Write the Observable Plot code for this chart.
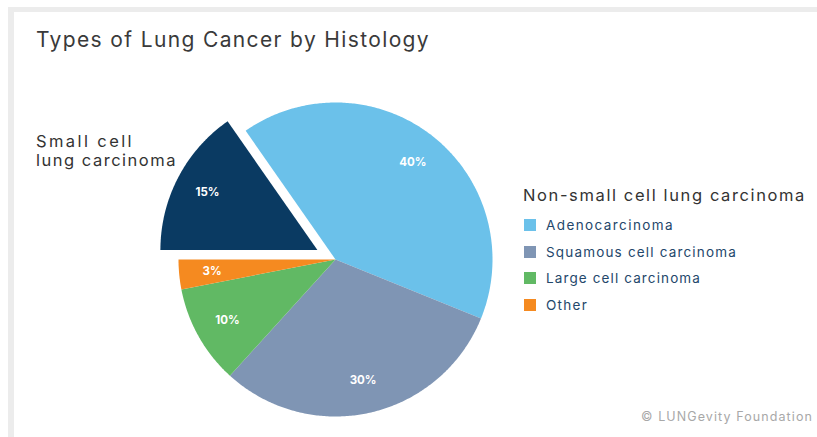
<!DOCTYPE html>
<html>
<head>
<meta charset="utf-8">
<script src="https://cdn.jsdelivr.net/npm/d3@7"></script>
<script src="https://cdn.jsdelivr.net/npm/@observablehq/plot@0.6"></script>
<style>
  html, body { margin: 0; padding: 0; background: #fff; }
  #wrap { position: relative; width: 817px; height: 437px; overflow: hidden; font-family: Inter, "Open Sans", sans-serif; }
  #frame { position: absolute; left: 8px; top: 7px; right: -10px; bottom: -10px; border-left: 6px solid #ececec; border-top: 5px solid #ececec; }
  #chart { position: absolute; left: 0; top: 0; }
  .t { position: absolute; white-space: nowrap; }
  .t span { display: inline-block; }
  #title { left: 36px; top: 27px; font-size: 21px; color: #3a3a3a; }
  #scl { left: 36px; top: 132px; font-size: 16.5px; line-height: 19px; color: #333; }
  #scl span { display: block; }
  #legtitle { left: 523px; top: 185px; font-size: 16.5px; color: #333; }
  #legend { position: absolute; left: 524px; top: 212px; }
  .item { display: flex; align-items: center; height: 26.5px; font-size: 13.5px; color: #24476b; }
  .sw { width: 12px; height: 12px; margin-right: 10px; flex: none; }
  #caption { left: 641px; top: 409px; font-size: 12.5px; color: #a8a8a8; }
</style>
</head>
<body>
<div id="wrap">
  <div id="frame"></div>
  <div id="chart"></div>
  <div class="t" id="title"></div>
  <div class="t" id="scl"></div>
  <div class="t" id="legtitle"></div>
  <div id="legend"></div>
  <div class="t" id="caption"></div>
</div>
<script>
// ---- data ----
const names = ["Small cell lung carcinoma", "Adenocarcinoma", "Squamous cell carcinoma", "Large cell carcinoma", "Other"];
const values = [15, 40, 30, 10, 3];
const labels = ["15%", "40%", "30%", "10%", "3%"];
const colors = ["#0a3a62", "#6bc1ea", "#7f95b4", "#61b964", "#f58a20"];
const exploded = ["Small cell lung carcinoma"];
const legendTitle = "Non-small cell lung carcinoma";
const legendNames = ["Adenocarcinoma", "Squamous cell carcinoma", "Large cell carcinoma", "Other"];
const titleText = "Types of Lung Cancer by Histology";
const smallCellLabel = ["Small cell", "lung carcinoma"];
const captionText = "© LUNGevity Foundation";

// ---- build pie geometry (unit radius) ----
const arcs = d3.pie().sort(null).startAngle(-Math.PI / 2).endAngle(3 * Math.PI / 2)(values);
const explodeDist = 0.13;
const labelR = 0.79;
const polys = [];
const labelPts = [];
arcs.forEach((a, i) => {
  const mid = (a.startAngle + a.endAngle) / 2;
  const off = exploded.includes(names[i]) ? explodeDist : 0;
  const cx = off * Math.sin(mid), cy = off * Math.cos(mid);
  const n = Math.max(2, Math.ceil((a.endAngle - a.startAngle) / 0.01));
  polys.push({name: names[i], x: cx, y: cy});
  for (let k = 0; k <= n; k++) {
    const t = a.startAngle + (a.endAngle - a.startAngle) * k / n;
    polys.push({name: names[i], x: cx + Math.sin(t), y: cy + Math.cos(t)});
  }
  polys.push({name: names[i], x: cx, y: cy});
  labelPts.push({name: names[i], label: labels[i], x: cx + labelR * Math.sin(mid), y: cy + labelR * Math.cos(mid)});
});

// ---- layout: pie center and radius in the page ----
const W = 817, H = 437;
const R = 157, CX = 335, CY = 259;
const S = 1.12; // domain half-extent in radius units
const half = R * S;

const chart = Plot.plot({
  width: W,
  height: H,
  marginLeft: CX - half,
  marginRight: W - CX - half,
  marginTop: CY - half,
  marginBottom: H - CY - half,
  x: {domain: [-S, S], axis: null},
  y: {domain: [-S, S], axis: null},
  color: {domain: names, range: colors},
  style: {background: "transparent", overflow: "visible"},
  marks: [
    Plot.line(polys, {x: "x", y: "y", z: "name", fill: "name", stroke: "none", curve: "linear"}),
    Plot.text(labelPts, {x: "x", y: "y", text: "label", fill: "white", fontSize: 11.5, fontWeight: "bold", fontFamily: "Inter, sans-serif"})
  ]
});
document.getElementById("chart").appendChild(chart);

// stretch a text span to the reference width using letter-spacing
function fit(span, target) {
  const w = span.getBoundingClientRect().width;
  const n = span.textContent.length;
  span.style.letterSpacing = ((target - w) / n) + "px";
}
function mk(parent, text) {
  const s = document.createElement("span");
  s.textContent = text;
  parent.appendChild(s);
  return s;
}

fit(mk(document.getElementById("title"), titleText), 394);
const scl = document.getElementById("scl");
fit(mk(scl, smallCellLabel[0]), 98);
fit(mk(scl, smallCellLabel[1]), 141);
fit(mk(document.getElementById("legtitle"), legendTitle), 283);
fit(mk(document.getElementById("caption"), captionText), 172);

const legendWidths = [128, 191, 155, 42];
const color = d3.scaleOrdinal(names, colors);
const leg = document.getElementById("legend");
legendNames.forEach((n, i) => {
  const d = document.createElement("div");
  d.className = "item";
  const sw = document.createElement("span");
  sw.className = "sw";
  sw.style.background = color(n);
  d.appendChild(sw);
  leg.appendChild(d);
  fit(mk(d, n), legendWidths[i]);
});
</script>
</body>
</html>
